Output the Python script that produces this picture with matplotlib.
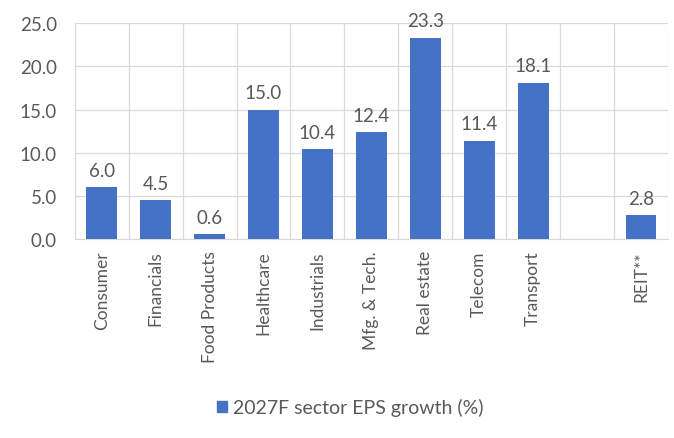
import numpy as np
import matplotlib.pyplot as plt
from matplotlib.patches import Patch

# sector EPS growth, 2027F (%), gap before REIT is an empty category
categories = ['Consumer', 'Financials', 'Food Products', 'Healthcare', 'Industrials',
              'Mfg. & Tech.', 'Real estate', 'Telecom', 'Transport', '', 'REIT**']
eps_growth = [6.0, 4.5, 0.6, 15.0, 10.4, 12.4, 23.3, 11.4, 18.1, np.nan, 2.8]
yticks = [0, 5, 10, 15, 20, 25]
series_name = '2027F sector EPS growth (%)'

BLUE = '#4472C4'
GREY = '#595959'

plt.rcParams.update({
    'font.family': ['Lato', 'DejaVu Sans'],
    'font.size': 12,
    'text.color': GREY,
    'xtick.color': GREY,
    'ytick.color': GREY,
})

fig = plt.figure(figsize=(6.74, 4.39), dpi=100)
ax = fig.add_axes([0.111, 0.453, 0.880, 0.492])

x = np.arange(len(categories))
bars = ax.bar(x, eps_growth, width=0.57, color=BLUE, zorder=3)
ax.bar_label(bars, labels=['' if np.isnan(v) else f'{v:.1f}' for v in eps_growth],
             padding=6, fontsize=13.5, color=GREY)

ax.set_xlim(-0.5, len(categories) - 0.5)
ax.set_ylim(0, 25)
ax.set_yticks(yticks)
ax.set_yticklabels([f'{v:.1f}' for v in yticks], fontsize=13.5)
ax.set_xticks(x)
ax.set_xticklabels(categories, rotation=90, fontsize=12.5)
ax.set_xticks(np.arange(-0.5, len(categories)), minor=True)

ax.tick_params(axis='both', which='both', length=0)
ax.tick_params(axis='y', pad=13)
ax.tick_params(axis='x', pad=8)
ax.grid(axis='y', which='major', color='#D9D9D9', lw=0.9, zorder=0)
ax.grid(axis='x', which='minor', color='#D9D9D9', lw=0.9, zorder=0)
for s in ['top', 'left', 'right']:
    ax.spines[s].set_visible(False)
ax.spines['bottom'].set_color('#D9D9D9')

fig.legend(handles=[Patch(color=BLUE, label=series_name)], loc='center',
           bbox_to_anchor=(0.52, 0.07), frameon=False, fontsize=14,
           handlelength=0.5, handleheight=0.5, handletextpad=0.3)

plt.savefig('out.png', dpi=100)
